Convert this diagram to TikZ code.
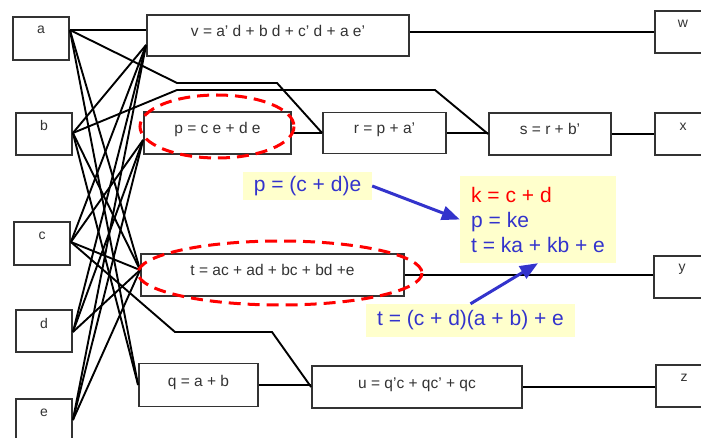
\documentclass[tikz,border=0pt]{standalone}
\usepackage{fontspec}
\setmainfont{Liberation Sans}
\usetikzlibrary{arrows.meta,calc}
\definecolor{dkgray}{HTML}{333333}
\definecolor{ptblue}{HTML}{3333CC}
\definecolor{noteyel}{HTML}{FFFFCC}
\begin{document}
\begin{tikzpicture}[x=1pt,y=-1pt,
  box/.style={draw=dkgray, line width=1.8pt, fill=white, inner sep=0pt, text=dkgray,
    font=\fontsize{15.5}{18}\selectfont},
  fbox/.style={box, text height=11pt, text depth=9pt},
  iolbl/.style={inner sep=0pt, text=dkgray, font=\fontsize{14}{16}\selectfont},
  wire/.style={line width=1.9pt, black},
  hl/.style={draw=red, line width=3pt, dash pattern=on 12pt off 7pt},
  note/.style={fill=noteyel, inner sep=0pt, text=ptblue, font=\fontsize{21}{25}\selectfont},
  pointer/.style={draw=ptblue, line width=3pt, -{Triangle[length=18pt,width=14pt]}}]
\useasboundingbox (0,0) rectangle (701,438);
\clip (0,0) rectangle (701,438);
\fill[white] (0,0) rectangle (701,438);

% input boxes
\node[box, minimum width=56pt, minimum height=43pt] (a) at (41,38.5) {};
\node[box, minimum width=56pt, minimum height=42pt] (b) at (44,134) {};
\node[box, minimum width=56pt, minimum height=43pt] (c) at (42,243.5) {};
\node[box, minimum width=56pt, minimum height=42pt] (d) at (44,331) {};
\node[box, minimum width=56pt, minimum height=42pt] (e) at (44,420) {};
% output boxes
\node[box, minimum width=56pt, minimum height=42pt] (w) at (683,32) {};
\node[box, minimum width=56pt, minimum height=42pt] (x) at (683,134) {};
\node[box, minimum width=56pt, minimum height=42pt] (y) at (682,277) {};
\node[box, minimum width=56pt, minimum height=42pt] (z) at (684,386) {};

% ports and bends
\coordinate (aP) at ($(a.east)+(0,-8.5)$);
\coordinate (bP) at ($(b.east)+(0,-1)$);
\coordinate (cP) at ($(c.east)+(0,-1.5)$);
\coordinate (dP) at ($(d.east)+(0,1)$);
\coordinate (eP) at (e.east);
\coordinate (ra1) at (177,83);
\coordinate (ra2) at (277,83);
\coordinate (sb1) at (177,90);
\coordinate (sb2) at (435,90);
\coordinate (uc1) at (175,332);
\coordinate (uc2) at (272,332);

% function boxes
\node[fbox, minimum width=262pt, minimum height=41pt] (v) at (278,35.5) {v = a' d + b d + c' d + a e'};
\node[fbox, minimum width=147pt, minimum height=42pt] (p) at (217.5,133) {p = c e + d e};
\node[fbox, minimum width=123pt, minimum height=41pt] (r) at (384.5,133) {r = p + a'};
\node[fbox, minimum width=122pt, minimum height=42pt] (s) at (550,134) {s = r + b'};
\node[fbox, minimum width=263pt, minimum height=42pt] (t) at (272.5,275) {t = ac + ad + bc + bd +e};
\node[fbox, minimum width=119pt, minimum height=43pt] (q) at (198.5,385) {q = a + b};
\node[fbox, minimum width=210pt, minimum height=42pt] (u) at (417,387) {u = q'c + qc' + qc};

\coordinate (vA) at ($(v.west)+(0,-5.5)$);
\coordinate (vIn) at ($(v.west)+(0,9.5)$);
\coordinate (pIn) at ($(p.west)+(0,7)$);
\coordinate (tIn) at ($(t.west)+(0,-5)$);
\coordinate (qIn) at (q.west);

% wires
\draw[wire] (aP) -- (vA);
\draw[wire] (aP) -- (ra1) -- (ra2) -- (r.west);
\draw[wire] (aP) -- (tIn);
\draw[wire] (aP) -- (qIn);
\draw[wire] (bP) -- (vIn);
\draw[wire] (bP) -- (sb1) -- (sb2) -- (s.west);
\draw[wire] (bP) -- (tIn);
\draw[wire] (bP) -- (qIn);
\draw[wire] (cP) -- (vIn);
\draw[wire] (cP) -- (pIn);
\draw[wire] (cP) -- (tIn);
\draw[wire] (cP) -- (uc1) -- (uc2) -- (u.west);
\draw[wire] (dP) -- (vIn);
\draw[wire] (dP) -- (pIn);
\draw[wire] (dP) -- (tIn);
\draw[wire] (eP) -- (vIn);
\draw[wire] (eP) -- (pIn);
\draw[wire] (eP) -- (tIn);
\draw[wire] (w.west -| v.east) -- (w.west);
\draw[wire] (p.east) -- (r.west);
\draw[wire] (r.east) -- (r.east -| s.west);
\draw[wire] (s.east) -- (x.west);
\draw[wire] (t.east) -- (t.east -| y.west);
\draw[wire] (q.east) -- (q.east -| u.west);
\draw[wire] (u.east) -- (u.east -| z.west);

% labels of the terminal boxes
\node[iolbl] (la) at ($(a.center)+(0,-8.5)$) {a};
\node[iolbl] (lb) at ($(b.center)+(0,-9)$) {b};
\node[iolbl] (lc) at ($(c.center)+(0,-8)$) {c};
\node[iolbl] (ld) at ($(d.center)+(0,-8)$) {d};
\node[iolbl] (le) at ($(e.center)+(0,-7)$) {e};
\node[iolbl] (lw) at ($(w.center)+(0,-8)$) {w};
\node[iolbl] (lx) at ($(x.center)+(0,-7)$) {x};
\node[iolbl] (ly) at ($(y.center)+(0,-8)$) {y};
\node[iolbl] (lz) at ($(z.center)+(0,-8)$) {z};

% highlight ellipses
\draw[hl] (217,126.5) ellipse [x radius=77, y radius=31.5];
\draw[hl] (280,273) ellipse [x radius=142, y radius=32];

% notes
\node[note, minimum width=129pt, minimum height=28pt] (n1) at (307.5,186) {p = (c + d)e};
\node[note, align=left, minimum width=156pt, minimum height=87pt] (n2) at (538,219.5)
  {\textcolor{red}{k = c + d}\\p = ke\\t = ka + kb + e};
\node[note, minimum width=209pt, minimum height=33pt] (n3) at (470.5,320.5) {t = (c + d)(a + b) + e};
\draw[pointer] (n1.east) -- (n2.west);
\draw[pointer] (n3.north) -- (n2.south);
\end{tikzpicture}
\end{document}
